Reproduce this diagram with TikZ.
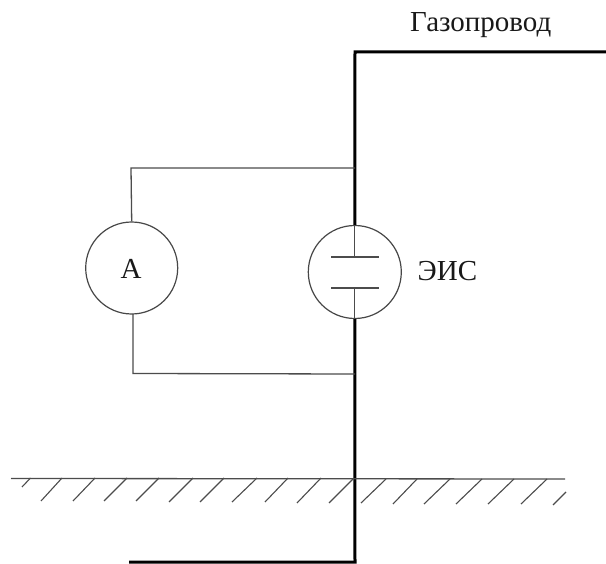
\documentclass[tikz,border=0pt]{standalone}
\usepackage{fontspec}
\setmainfont{Liberation Serif}
\tikzset{
  pipeline/.style={line width=3pt,line cap=butt,line join=miter,black},
  wire/.style={line width=1.3pt,black!70},
  meter/.style={circle,draw=black!72,line width=1.2pt,minimum size=92pt,inner sep=0pt,fill=none},
  label/.style={inner sep=0pt,font=\fontsize{29}{32}\selectfont,text=black!90},
  hatchline/.style={line width=1.1pt,black!70},
  x=1pt,y=-1pt
}
\begin{document}
\begin{tikzpicture}
\useasboundingbox (0,0) rectangle (606,564);
\fill[white] (0,0) rectangle (606,564);
% named points
\node[meter] (amm) at (131.7,268) {};
\node[meter,minimum size=93pt] (eis) at (354.8,272) {};
\node[label,anchor=base] (ammtext) at (131,279) {А};
\node[label,anchor=base west] (eistext) at (417.5,281) {ЭИС};
\node[label,anchor=base west] (gas) at (410,32) {Газопровод};
\coordinate (pstart) at (606,52);
\coordinate (pcorner) at (355,52);
\coordinate (pbend) at (355,562);
\coordinate (pend) at (129,562);
\coordinate (tapU) at (355,168);
\coordinate (tapL) at (355,374);
\coordinate (plateUL) at (331,257);
\coordinate (plateUR) at (379,257);
\coordinate (plateLL) at (331,288);
\coordinate (plateLR) at (379,288);
\coordinate (plateUM) at (354.8,257);
\coordinate (plateLM) at (354.8,288);
\coordinate (gndL) at (11,478.5);
\coordinate (gndR) at (565,479);
% pipeline
\draw[pipeline] (pstart) -- (pcorner) -- (eis.north);
\draw[pipeline] (eis.south) -- (pbend) -- (pend);
% wires
\draw[wire] (amm.north) -- (131,168) -- (tapU);
\draw[wire] (133,314) -- (133,373.5) -- (tapL);
\draw[wire] (eis.north) -- (plateUM);
\draw[wire] (eis.south) -- (plateLM);
\draw[wire,line width=1.5pt] (plateUL) -- (plateUR);
\draw[wire,line width=1.5pt] (plateLL) -- (plateLR);
% ground
\draw[wire] (gndL) -- (gndR);
\foreach \ta/\tb/\ba/\bb in {
  30.5/478/22/487, 62/478/41/501, 95/478/73/501, 127/478/104/501,
  159/478/136/501, 193/478/169/502, 224/478/200/502, 257/478/232/502,
  288/478/265/502, 321/478/297/503, 353/479/329/503, 386/479/361/503,
  417/479/393/504, 450/479/424/504, 482/479/456/504, 514/479/488/504,
  547/479/521/504, 566/492/553/505}
  \draw[hatchline] (\ta,\tb) -- (\ba,\bb);
\end{tikzpicture}
\end{document}
